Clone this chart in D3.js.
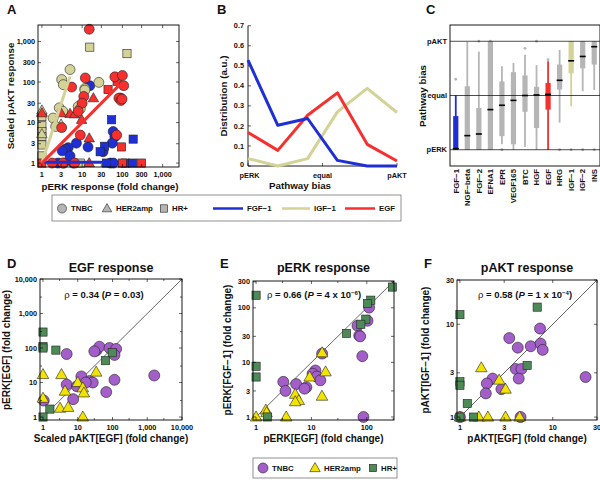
<!DOCTYPE html>
<html><head><meta charset="utf-8">
<script src="https://cdn.jsdelivr.net/npm/d3@7"></script>
<style>body{margin:0;background:#fff} svg{font-family:"Liberation Sans",Arial,Helvetica,sans-serif;}</style>
</head><body><svg id="c" width="600" height="480"></svg>
<script>
// ---------- DATA ----------
// Panel A: [pERK fold change, scaled pAKT response]
const aRedCircles = [[15,2000],[5.5,75],[12,126],[65,134],[100,145],[108,81],[82,40],[92,35],[98,38],[11,44],[10,30],[8,19],[3.1,7.5],[9,4.9],[72,4.9],[1.8,1],[3.3,1],[6.5,1]];
const aRedTriangles = [[1,17],[5,16.5],[6.5,16],[19,40],[9.7,11.7],[15,4.1],[15,1],[3,17]];
const aRedSquares = [[44,65],[74,104],[95,2.5],[1,1],[100,1],[300,1]];
const aBlueCircles = [[15.5,81],[90,40],[59,6],[65,4.5],[33,1.9],[56,3.1],[7.2,3.1],[4.5,2.4],[3.8,2.2],[3.2,2],[14,2.5],[2.5,1],[3.5,1],[6,1],[50,1],[60,1],[5,1.5]];
const aBlueSquares = [[54,11.7],[185,3.9],[36,2.6],[28,1.9],[120,1],[180,1],[40,1]];
const aKhakiCircles = [[5,203],[3.1,115],[3.4,86],[11.7,69],[11.7,63],[26,98],[2.7,23],[3.3,19],[1.9,12.9],[8,25],[9,22],[2.2,8]];
const aKhakiSquares = [[15.5,725],[130,500],[1,14],[1,8.3],[1,6],[1,4.5],[1,2.8],[9,1],[1,1.5]];
const aKhakiTriangles = [[1,18],[1,5.2],[1,20],[3,9]];
const aBlueFit = [[1,1.05],[65,1.05]];
const aKhakiFit = [[1,1],[5,138]];
const aRedFit = [[1,1],[86,86]];
const aTicks = [1,3,10,30,100,300,1000];

// Panel B: distribution over 6 bias bins
const bBins = [0,1,2,3,4,5];
const bFGF1 = [0.528,0.203,0.237,0.028,0,0];
const bIGF1 = [0.037,0,0.037,0.27,0.387,0.267];
const bEGF = [0.167,0.078,0.253,0.365,0.108,0.025];
const bYTicks = [0,0.1,0.2,0.3,0.4,0.5,0.6,0.7];
const bXTicks = [0,2.5,5];
const bXLabels = ["pERK","equal","pAKT"];

// Panel C: pathway bias boxplots (-1 = pERK, 0 = equal, 1 = pAKT)
const cCats = ["FGF\u22121","NGF\u2212beta","FGF\u22122","EFNA1","EPR","VEGF165","BTC","HGF","EGF","HRG","IGF\u22121","IGF\u22122","INS"];
const cLo  = [-1,-1,-1,-1,-0.9,-1,-0.95,-1,-1,-0.5,-0.2,0.08,0.1];
const cQ1  = [-1,-1,-1,-1,-0.75,-0.9,-0.3,-0.6,-0.26,0.11,0.41,0.5,0.57];
const cMed = [-0.98,-0.74,-0.71,-0.26,-0.18,-0.09,0.0,0.01,0.02,0.28,0.64,0.72,0.9];
const cQ3  = [-0.38,0.17,-0.23,1,0.26,0.43,0.37,0.16,0.23,0.57,1,1,1];
const cHi  = [0,0.99,0.81,1,0.54,0.6,0.75,0.56,0.63,0.84,1,1,1];
const cOut = [[0.3],[],[1],[1],[-1],[],[0.87],[1],[0.66],[-1],[-1],[-1],[-1]];
const cYTicks = [-1,0,1];
const cYLabels = ["pERK","equal","pAKT"];

// Panel D: [scaled pAKT[EGF], pERK[EGF]]
const dCircles = [[4.8,67],[34,84],[42,109],[30,80],[82,100],[127,94],[114,63],[1590,16],[114,12],[12.7,15],[22,11],[27,10],[17,10],[4.8,8.7],[9.5,7.8],[66,5.3],[7.4,3.3],[1.05,3]];
const dTriangles = [[1,17],[3.4,17],[34,20],[10,10],[4.3,5.6],[14,7],[15,5],[1,3.5],[3.1,1.8],[5.3,1.9],[14,1]];
const dSquares = [[1,290],[1,110],[1,100],[2.35,87],[63,43],[98,73],[1.58,1.7],[1,1]];
const dTicks = [1,10,100,1000,10000];
const dMinor = [3,30,300,3000];

// Panel E: [pERK[EGF], pERK[FGF-1]]
const eCircles = [[110,101],[103,58],[68,47],[73,31],[76,30],[83,13],[87,1],[15.6,14.5],[11.8,7.1],[10.5,6.2],[12.5,5.5],[14.5,4.7],[3.1,4.4],[3.4,3.0],[5.3,4.0],[8.1,3.5],[7.5,3.3]];
const eTriangles = [[15.6,15],[18,6.7],[9.3,5.4],[15.5,2.4],[5.1,2.6],[5.9,2.0],[5.1,1.9],[1.5,1.34],[1.55,1.2],[1,1],[3.5,1]];
const eSquares = [[1,170],[290,240],[118,138],[103,120],[96,62],[78,50],[43,34],[1,8.5],[1,5.4],[1.6,1]];
const eXTicks = [1,10,100];
const eXMinor = [3,30,300];
const eYTicks = [1,3,10,30,100,300];

// Panel F: [pAKT[EGF], pAKT[IGF-1]]
const fCircles = [[7.3,9],[3.4,7.1],[4.2,5.6],[5.8,5.8],[7.4,6.2],[7.8,5.3],[4.0,3.3],[4.6,3.3],[4.3,2.6],[2.25,2.6],[1.95,2.3],[1.9,1.8],[2.8,2.0],[22.6,2.7],[4.5,1],[1,1]];
const fTriangles = [[1.7,3.4],[2.65,2.5],[3.1,2.0],[1,1],[1.6,1],[2.0,1],[3.1,1],[4.4,1]];
const fSquares = [[1,12.7],[6.8,15.3],[5.3,3.6],[1,2.4],[1,2.2],[1.2,1.4],[1,1],[1.4,1]];
const fTicks = [1,3,10,30];

// ---------- STYLE ----------
const BLUE="#1f2fd6", RED="#f5302f", KHAKI="#d4d296", GRAY="#b5b5b5";
const PURPLE="#a35ec9", YELLOW="#f2e300", GREEN="#4e8a57";
const svg = d3.select("#c");
const fmt = d3.format(",");

function txt(g, x, y, s, size, anchor, rot, weight) {
  const t = g.append("text").attr("x",x).attr("y",y).text(s)
    .attr("font-size",size).attr("font-weight",weight||"bold")
    .attr("text-anchor",anchor||"start").attr("fill","#111");
  if (rot) t.attr("transform",`rotate(${rot},${x},${y})`);
  return t;
}
function frameAxes(g, xs, ys, xT, xL, yT, yL, xMinor, yMinor) {
  const [x0,x1]=xs.range(), [yb,yt]=ys.range();
  g.append("rect").attr("x",x0).attr("y",yt).attr("width",x1-x0).attr("height",yb-yt)
    .attr("fill","none").attr("stroke","#000").attr("stroke-width",0.9);
  const tl=3;
  const tk = (vals, len) => {
    vals.forEach(v=>{
      const x=xs(v);
      g.append("line").attr("x1",x).attr("x2",x).attr("y1",yb).attr("y2",yb-len).attr("stroke","#000").attr("stroke-width",0.6);
      g.append("line").attr("x1",x).attr("x2",x).attr("y1",yt).attr("y2",yt+len).attr("stroke","#000").attr("stroke-width",0.6);
    });
  };
  const tky = (vals, len) => {
    vals.forEach(v=>{
      const y=ys(v);
      g.append("line").attr("y1",y).attr("y2",y).attr("x1",x0).attr("x2",x0+len).attr("stroke","#000").attr("stroke-width",0.6);
      g.append("line").attr("y1",y).attr("y2",y).attr("x1",x1).attr("x2",x1-len).attr("stroke","#000").attr("stroke-width",0.6);
    });
  };
  tk(xT,tl); tky(yT,tl);
  if (xMinor) tk(xMinor,2);
  if (yMinor) tky(yMinor,2);
  xL.forEach(v=>txt(g,xs(v),yb+9.5,fmt(v),7.3,"middle"));
  yL.forEach(v=>txt(g,x0-3,ys(v)+2.6,fmt(v),7.3,"end"));
}
function marker(g, x, y, shape, color, s) {
  if (shape==="circle") {
    g.append("circle").attr("cx",x).attr("cy",y).attr("r",s/2).attr("fill",color).attr("stroke","#222").attr("stroke-width",0.6);
  } else if (shape==="square") {
    const w=s*0.82;
    g.append("rect").attr("x",x-w/2).attr("y",y-w/2).attr("width",w).attr("height",w).attr("fill",color).attr("stroke","#222").attr("stroke-width",0.6);
  } else {
    const w=s*1.05, h=w*0.87;
    g.append("path").attr("d",`M${x},${y-h*0.6}L${x+w/2},${y+h*0.4}L${x-w/2},${y+h*0.4}Z`).attr("fill",color).attr("stroke","#222").attr("stroke-width",0.6);
  }
}
function pts(g, xs, ys, data, shape, color, s) {
  data.forEach(d=>marker(g, xs(d[0]), ys(d[1]), shape, color, s));
}

// ---------- PANEL A ----------
{
  const g = svg.append("g");
  const xs = d3.scaleLog().domain([0.8,2550]).range([38,179]);
  const ys = d3.scaleLog().domain([0.8,2550]).range([167,25]);
  const pg = g.append("g");
  pts(pg,xs,ys,aBlueCircles,"circle",BLUE,10);
  pts(pg,xs,ys,aBlueSquares,"square",BLUE,10);
  pts(pg,xs,ys,aKhakiSquares,"square",KHAKI,10);
  pts(pg,xs,ys,aKhakiTriangles,"tri",KHAKI,10);
  pts(pg,xs,ys,aKhakiCircles,"circle",KHAKI,10);
  pts(pg,xs,ys,aRedTriangles,"tri",RED,10);
  pts(pg,xs,ys,aRedSquares,"square",RED,10);
  pts(pg,xs,ys,aRedCircles,"circle",RED,10);
  const line = d3.line().x(d=>xs(d[0])).y(d=>ys(d[1]));
  [[aBlueFit,BLUE],[aKhakiFit,KHAKI],[aRedFit,RED]].forEach(([d,c])=>
    g.append("path").attr("d",line(d)).attr("stroke",c).attr("stroke-width",3).attr("fill","none"));
  frameAxes(g,xs,ys,aTicks,aTicks,aTicks,aTicks);
  txt(g,110,190,"pERK response (fold change)",9.8,"middle");
  txt(g,14,96,"Scaled pAKT response",9.8,"middle",-90);
  txt(g,7,14,"A",13,"start");
}

// ---------- PANEL B ----------
{
  const g = svg.append("g");
  const xs = d3.scaleLinear().domain([0,5]).range([248,397]);
  const ys = d3.scaleLinear().domain([0,0.7]).range([166,25.7]);
  g.append("line").attr("x1",248).attr("x2",248).attr("y1",25.7).attr("y2",166).attr("stroke","#000").attr("stroke-width",0.9);
  g.append("line").attr("x1",248).attr("x2",397).attr("y1",166).attr("y2",166).attr("stroke","#000").attr("stroke-width",0.9);
  bYTicks.forEach(v=>{
    g.append("line").attr("x1",248).attr("x2",251).attr("y1",ys(v)).attr("y2",ys(v)).attr("stroke","#000").attr("stroke-width",0.6);
    txt(g,244,ys(v)+(v===0?1.2:2.6),String(v),7.3,"end");
  });
  bXTicks.forEach((v,i)=>{
    g.append("line").attr("x1",xs(v)).attr("x2",xs(v)).attr("y1",166).attr("y2",163).attr("stroke","#000").attr("stroke-width",0.6);
    txt(g,xs(v)+(i===0?1.5:0),177.5,bXLabels[i],7.3,"middle");
  });
  const line = d3.line().x((d,i)=>xs(bBins[i])).y(d=>ys(d));
  [[bIGF1,KHAKI],[bEGF,RED],[bFGF1,BLUE]].forEach(([d,c])=>
    g.append("path").attr("d",line(d)).attr("stroke",c).attr("stroke-width",3).attr("fill","none").attr("stroke-linejoin","round"));
  txt(g,300,188.5,"Pathway bias",9.8,"middle");
  txt(g,227,96,"Distribution (a.u.)",9.8,"middle",-90);
  txt(g,217,14,"B",13,"start");
}

// ---------- PANEL C ----------
{
  const g = svg.append("g");
  const xs = d3.scaleBand().domain(cCats).range([450,600]);
  const ys = d3.scaleLinear().domain([-1.3,1.3]).range([166,25]);
  const colors = cCats.map(c=> c==="FGF\u22121"?BLUE : c==="EGF"?RED : c==="IGF\u22121"?KHAKI : GRAY);
  cCats.forEach((c,i)=>{
    const cx = xs(c)+xs.bandwidth()/2, col=colors[i];
    g.append("line").attr("x1",cx).attr("x2",cx).attr("y1",ys(cLo[i])).attr("y2",ys(cHi[i])).attr("stroke",col).attr("stroke-width",1.8);
    g.append("rect").attr("x",cx-2.6).attr("y",ys(cQ3[i])).attr("width",5.2).attr("height",ys(cQ1[i])-ys(cQ3[i])).attr("fill",col);
    cOut[i].forEach(o=>g.append("circle").attr("cx",cx).attr("cy",ys(o)).attr("r",1.4).attr("fill",GRAY));
  });
  cYTicks.forEach((v,i)=>{
    g.append("line").attr("x1",450).attr("x2",600).attr("y1",ys(v)).attr("y2",ys(v)).attr("stroke","#000").attr("stroke-width",0.7);
    txt(g,447,ys(v)+2.6,cYLabels[i],7.5,"end");
  });
  cCats.forEach((c,i)=>{
    const cx = xs(c)+xs.bandwidth()/2;
    g.append("line").attr("x1",cx-3).attr("x2",cx+3).attr("y1",ys(cMed[i])).attr("y2",ys(cMed[i])).attr("stroke","#000").attr("stroke-width",1.6);
    txt(g,cx+2.8,169,c,7.8,"end",-90);
  });
  g.append("rect").attr("x",450).attr("y",25).attr("width",150).attr("height",141).attr("fill","none").attr("stroke","#000").attr("stroke-width",0.9);
  txt(g,426,96,"Pathway bias",9.8,"middle",-90);
  txt(g,426,14,"C",13,"start");
}

// ---------- TOP LEGEND ----------
{
  const g = svg.append("g");
  g.append("rect").attr("x",52).attr("y",195).attr("width",349).attr("height",26).attr("fill","#fff").attr("stroke","#777").attr("stroke-width",0.8);
  const ly=208.5;
  marker(g,62,ly,"circle",GRAY,9); txt(g,71,ly+2.7,"TNBC",7.8);
  marker(g,107,ly,"tri",GRAY,9); txt(g,116,ly+2.7,"HER2amp",7.8);
  marker(g,164,ly,"square",GRAY,9); txt(g,172,ly+2.7,"HR+",7.8);
  [[213,243,BLUE,"FGF\u22121"],[282,310,KHAKI,"IGF\u22121"],[345,375,RED,"EGF"]].forEach(([a,b,c,s])=>{
    g.append("line").attr("x1",a).attr("x2",b).attr("y1",ly).attr("y2",ly).attr("stroke",c).attr("stroke-width",2.5);
    txt(g,b+4,ly+2.7,s,7.8);
  });
}

// ---------- PANELS D, E, F ----------
function scatterPanel(cfg) {
  const g = svg.append("g");
  const xs = d3.scaleLog().domain(cfg.dom).range(cfg.xr);
  const ys = d3.scaleLog().domain(cfg.dom).range(cfg.yr);
  g.append("line").attr("x1",xs(cfg.dom[0])).attr("y1",ys(cfg.dom[0])).attr("x2",xs(cfg.dom[1])).attr("y2",ys(cfg.dom[1])).attr("stroke","#000").attr("stroke-width",0.6);
  pts(g,xs,ys,cfg.circles,"circle",PURPLE,11);
  pts(g,xs,ys,cfg.triangles,"tri",YELLOW,11);
  pts(g,xs,ys,cfg.squares,"square",GREEN,10);
  frameAxes(g,xs,ys,cfg.xT,cfg.xT,cfg.yT,cfg.yT,cfg.xM,cfg.yM);
  const cx=(cfg.xr[0]+cfg.xr[1])/2;
  txt(g,cx,272,cfg.title,12.5,"middle");
  txt(g,cfg.xr[0]-33,268,cfg.letter,13,"start");
  txt(g,cx,442,cfg.xlab,10,"middle");
  txt(g,cfg.ylx,350,cfg.ylab,10,"middle",-90);
  const a = g.append("text").attr("x",cfg.annX).attr("y",298).attr("font-size",9.5).attr("font-weight","bold").attr("text-anchor","middle").attr("fill","#111");
  a.append("tspan").attr("font-weight","normal").text("\u03c1");
  a.append("tspan").text(" = "+cfg.rho+" (");
  a.append("tspan").attr("font-style","italic").text("P");
  a.append("tspan").text(" = "+cfg.p);
  if (cfg.exp) { a.append("tspan").attr("font-size",6).attr("dy",-3.5).text(cfg.exp); a.append("tspan").attr("dy",3.5).text(")"); }
  else a.append("tspan").text(")");
}
scatterPanel({dom:[0.82,10000],xr:[40,182],yr:[420,279],circles:dCircles,triangles:dTriangles,squares:dSquares,
  xT:dTicks,yT:dTicks,xM:dMinor,yM:dMinor,title:"EGF response",letter:"D",xlab:"Scaled pAKT[EGF] (fold change)",
  ylab:"pERK[EGF] (fold change)",ylx:10,annX:104,rho:"0.34",p:"0.03"});
scatterPanel({dom:[0.88,310],xr:[253,394],yr:[420,281],circles:eCircles,triangles:eTriangles,squares:eSquares,
  xT:eXTicks,yT:eYTicks,xM:eXMinor,yM:null,title:"pERK response",letter:"E",xlab:"pERK[EGF] (fold change)",
  ylab:"pERK[FGF\u22121] (fold change)",ylx:231,annX:314,rho:"0.66",p:"4 x 10",exp:"\u22126"});
scatterPanel({dom:[0.93,30],xr:[457,597],yr:[420,280],circles:fCircles,triangles:fTriangles,squares:fSquares,
  xT:fTicks,yT:fTicks,xM:null,yM:null,title:"pAKT response",letter:"F",xlab:"pAKT[EGF] (fold change)",
  ylab:"pAKT[IGF\u22121] (fold change)",ylx:429,annX:525,rho:"0.58",p:"1 x 10",exp:"\u22124"});

// ---------- BOTTOM LEGEND ----------
{
  const g = svg.append("g");
  g.append("rect").attr("x",253).attr("y",458).attr("width",144).attr("height",20).attr("fill","#fff").attr("stroke","#777").attr("stroke-width",0.8);
  const ly=468;
  marker(g,263,ly,"circle",PURPLE,10); txt(g,272,ly+2.7,"TNBC",7.8);
  marker(g,315,ly,"tri",YELLOW,10); txt(g,324,ly+2.7,"HER2amp",7.8);
  marker(g,373,ly,"square",GREEN,9); txt(g,381,ly+2.7,"HR+",7.8);
}
</script></body></html>
